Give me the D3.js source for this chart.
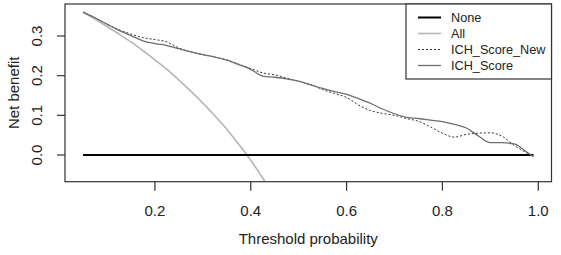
<!DOCTYPE html>
<html lang="en">
  <head>
    <script src="https://d3js.org/d3.v7.min.js"></script>
    <meta charset="UTF-8" />
    <title>Decision curve</title>
    <style>
      body { margin: 0; background: #fff; }
      text { font-family: "Liberation Sans", Arial, sans-serif; fill: #222; }
    </style>
  </head>
  <body>
    <svg width="561" height="255"></svg>
    <script>
      // thresholds shared by the model curves
      var thresholds = [0.05, 0.075, 0.1, 0.125, 0.15, 0.175, 0.2, 0.225, 0.25, 0.275,
        0.3, 0.325, 0.35, 0.375, 0.4, 0.425, 0.45, 0.475, 0.5, 0.525, 0.55, 0.575,
        0.6, 0.625, 0.65, 0.675, 0.7, 0.725, 0.75, 0.775, 0.8, 0.825, 0.85, 0.875,
        0.9, 0.925, 0.95, 0.975, 0.99];
      var scoreNew = [0.36, 0.346, 0.33, 0.316, 0.305, 0.296, 0.291, 0.285, 0.27, 0.26,
        0.253, 0.247, 0.24, 0.229, 0.218, 0.207, 0.202, 0.194, 0.186, 0.178, 0.165, 0.155,
        0.145, 0.126, 0.112, 0.105, 0.1, 0.092, 0.085, 0.071, 0.055, 0.045, 0.052, 0.055,
        0.056, 0.047, 0.024, 0.006, -0.004];
      var score = [0.36, 0.346, 0.33, 0.314, 0.301, 0.288, 0.281, 0.276, 0.268, 0.26,
        0.253, 0.247, 0.239, 0.228, 0.216, 0.199, 0.196, 0.192, 0.186, 0.177, 0.168, 0.16,
        0.153, 0.142, 0.13, 0.116, 0.104, 0.095, 0.092, 0.088, 0.084, 0.077, 0.068, 0.048,
        0.031, 0.031, 0.028, 0.008, -0.004];
      // treat-all curve (clipped by the plot box)
      var allThresholds = [0.05, 0.075, 0.1, 0.125, 0.15, 0.175, 0.2, 0.225, 0.25, 0.275,
        0.3, 0.325, 0.35, 0.375, 0.4, 0.425, 0.45];
      var allNB = [0.36, 0.343, 0.324, 0.305, 0.285, 0.263, 0.24, 0.216, 0.189, 0.161,
        0.131, 0.099, 0.065, 0.027, -0.013, -0.058, -0.106];
      var noneThresholds = [0.05, 0.99];
      var noneNB = [0, 0];

      var xTicks = [0.2, 0.4, 0.6, 0.8, 1.0];
      var yTicks = [0.0, 0.1, 0.2, 0.3];

      var legendNames = ["None", "All", "ICH_Score_New", "ICH_Score"];
      var legendColors = ["#000", "#b5b5b5", "#333", "#6e6e6e"];
      var legendWidths = [2, 1.6, 1, 1.3];
      var legendDash = [null, null, "2,2", null];

      var svg = d3.select("svg");
      var pLeft = 65, pRight = 551.5, pTop = 4, pBottom = 181.7;

      var x = d3.scaleLinear().domain([0.0124, 1.0276]).range([pLeft, pRight]);
      var y = d3.scaleLinear().domain([-0.0673, 0.3807]).range([pBottom, pTop]);

      svg.append("clipPath").attr("id", "plotClip")
        .append("rect")
        .attr("x", pLeft).attr("y", pTop)
        .attr("width", pRight - pLeft).attr("height", pBottom - pTop);

      var line = d3.line()
        .x(function (d) { return x(d[0]); })
        .y(function (d) { return y(d[1]); })
        .curve(d3.curveMonotoneX);

      var g = svg.append("g").attr("clip-path", "url(#plotClip)");

      function addLine(xs, ys, i) {
        g.append("path")
          .datum(xs.map(function (t, k) { return [t, ys[k]]; }))
          .attr("fill", "none")
          .attr("stroke", legendColors[i])
          .attr("stroke-width", legendWidths[i])
          .attr("stroke-dasharray", legendDash[i])
          .attr("d", line);
      }
      addLine(allThresholds, allNB, 1);
      addLine(noneThresholds, noneNB, 0);
      addLine(thresholds, scoreNew, 2);
      addLine(thresholds, score, 3);

      // box
      svg.append("rect")
        .attr("x", pLeft).attr("y", pTop)
        .attr("width", pRight - pLeft).attr("height", pBottom - pTop)
        .attr("fill", "none").attr("stroke", "#333").attr("stroke-width", 1.2);

      // x axis
      var xa = svg.append("g");
      xTicks.forEach(function (t) {
        xa.append("line")
          .attr("x1", x(t)).attr("x2", x(t))
          .attr("y1", pBottom).attr("y2", pBottom + 9)
          .attr("stroke", "#333").attr("stroke-width", 1.2);
        xa.append("text")
          .attr("x", x(t)).attr("y", 216)
          .attr("text-anchor", "middle")
          .attr("font-size", "15px")
          .text(t.toFixed(1));
      });
      svg.append("text")
        .attr("x", (pLeft + pRight) / 2).attr("y", 244)
        .attr("text-anchor", "middle")
        .attr("font-size", "15px")
        .text("Threshold probability");

      // y axis
      var ya = svg.append("g");
      yTicks.forEach(function (t) {
        ya.append("line")
          .attr("x1", pLeft - 8).attr("x2", pLeft)
          .attr("y1", y(t)).attr("y2", y(t))
          .attr("stroke", "#333").attr("stroke-width", 1.2);
        ya.append("text")
          .attr("transform", "translate(42," + y(t) + ") rotate(-90)")
          .attr("text-anchor", "middle")
          .attr("font-size", "15px")
          .text(t.toFixed(1));
      });
      svg.append("text")
        .attr("transform", "translate(19," + (pTop + pBottom) / 2 + ") rotate(-90)")
        .attr("text-anchor", "middle")
        .attr("font-size", "15px")
        .text("Net benefit");

      // legend
      var lg = svg.append("g");
      lg.append("rect")
        .attr("x", 406).attr("y", pTop)
        .attr("width", pRight - 406).attr("height", 79 - pTop)
        .attr("fill", "#fff").attr("stroke", "#333").attr("stroke-width", 1.2);
      legendNames.forEach(function (name, i) {
        var ly = 17.5 + i * 16;
        lg.append("line")
          .attr("x1", 418).attr("x2", 441)
          .attr("y1", ly).attr("y2", ly)
          .attr("stroke", legendColors[i])
          .attr("stroke-width", legendWidths[i])
          .attr("stroke-dasharray", legendDash[i]);
        lg.append("text")
          .attr("x", 451).attr("y", ly + 4.5)
          .attr("font-size", "12.7px")
          .text(name);
      });
    </script>
  </body>
</html>
